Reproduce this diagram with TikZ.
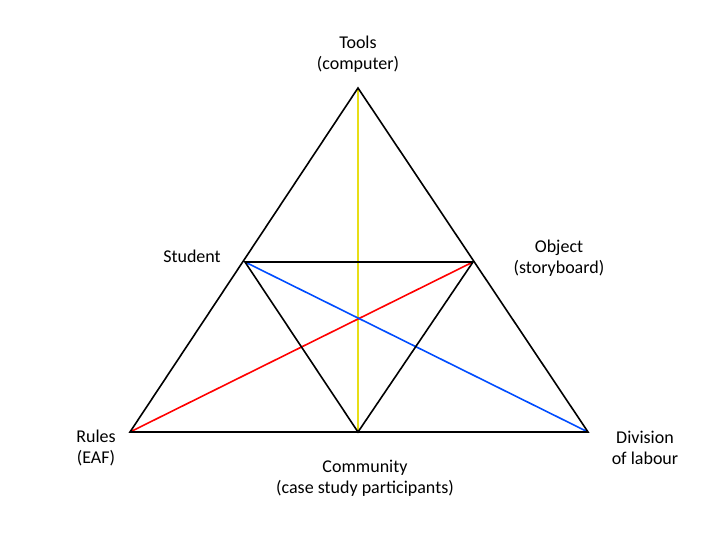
\documentclass[tikz,border=0pt]{standalone}
\usepackage{fontspec}
\setmainfont{Carlito}
\begin{document}
\begin{tikzpicture}[x=1pt,y=-1pt,
  lbl/.style={align=center,font=\fontsize{18}{21}\selectfont},
  edge/.style={line width=1.6pt}]
\useasboundingbox (0,0) rectangle (720,540);
\coordinate (T) at (358,88);
\coordinate (S) at (245,262);
\coordinate (O) at (473,262);
\coordinate (R) at (130,432);
\coordinate (C) at (358,432);
\coordinate (D) at (588,432);
\draw[edge,yellow!90!black] (T) -- (C);
\draw[edge,red] (R) -- (O);
\draw[edge,blue!70!cyan] (S) -- (D);
\draw[edge,black] (T) -- (R) -- (D) -- cycle;
\draw[edge,black] (S) -- (O) -- (C) -- cycle;
\node[lbl] (tl) at (358,54) {Tools\\(computer)};
\node[lbl] (sl) at (192,256) {Student};
\node[lbl] (ol) at (559,258) {Object\\(storyboard)};
\node[lbl] (rl) at (96,448) {Rules\\(EAF)};
\node[lbl] (cl) at (365,478) {Community\\(case study participants)};
\node[lbl] (dl) at (645,448) {Division\\of labour};
\end{tikzpicture}
\end{document}
